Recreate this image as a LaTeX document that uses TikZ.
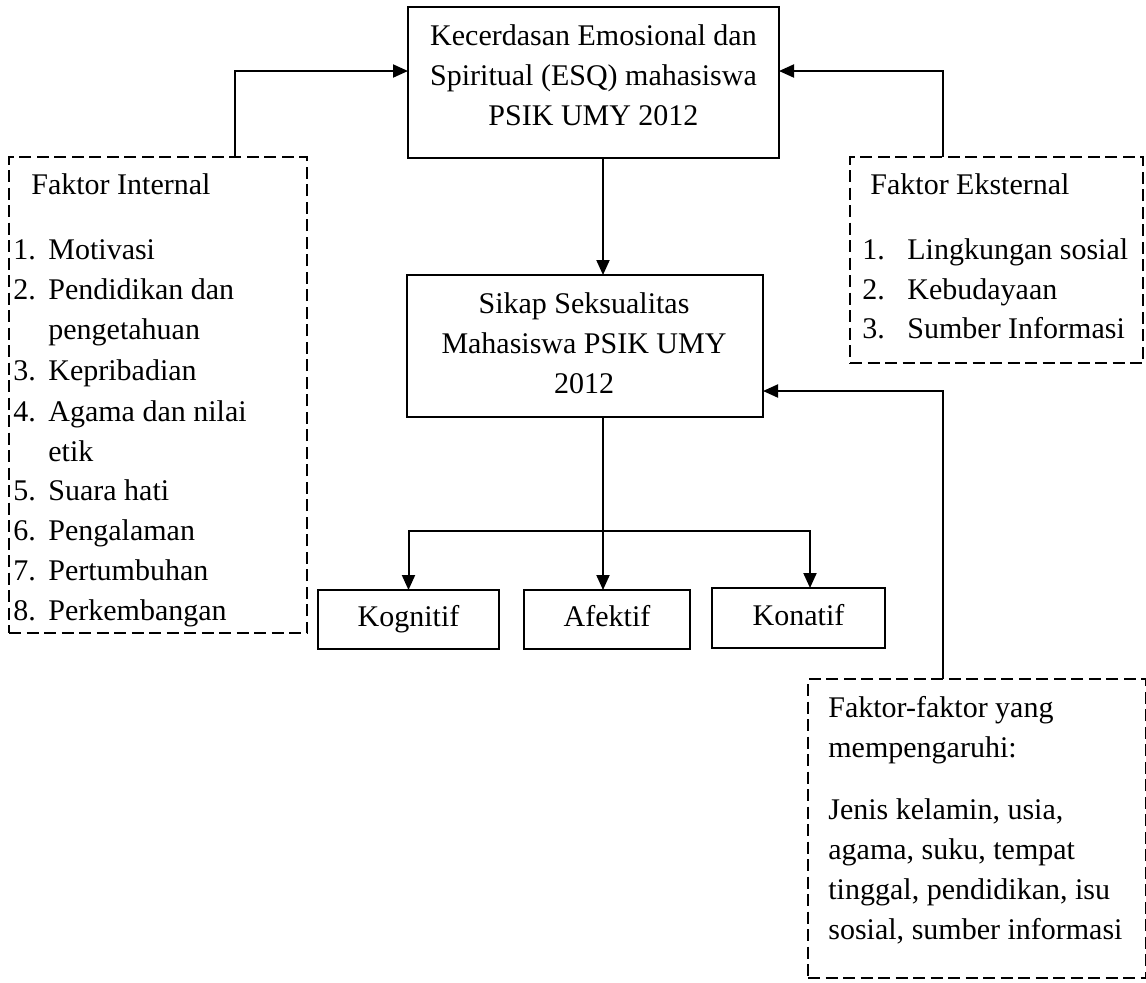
\documentclass[tikz,border=0pt]{standalone}
\usepackage{fontspec}
\setmainfont{Liberation Serif}
\usetikzlibrary{arrows.meta}
\begin{document}
\begin{tikzpicture}[x=0.5pt,y=-0.5pt,
  every node/.style={font=\fontsize{15pt}{20pt}\selectfont},
  solidbox/.style={draw, line width=1pt, rectangle, inner sep=0pt, outer sep=0pt, text height=10.5pt, text depth=3.5pt},
  dashbox/.style={draw, line width=1pt, rectangle, dash pattern=on 6pt off 2.75pt, inner sep=0pt, outer sep=0pt},
  lbl/.style={inner sep=0pt, anchor=west, text height=10.5pt, text depth=3.5pt},
  ctr/.style={inner sep=0pt, text height=10.5pt, text depth=3.5pt},
  arr/.style={line width=1pt, -{Triangle[length=7.5pt,width=6.5pt]}}]

\useasboundingbox (0,0) rectangle (1146,982);

% main boxes
\node[solidbox, minimum width=185.5pt, minimum height=75.5pt] (ESQ) at (593.5,82.5) {};
\node[ctr] (esq1) at (593.5,38) {Kecerdasan Emosional dan};
\node[ctr] (esq2) at (593.5,78) {Spiritual (ESQ) mahasiswa};
\node[ctr] (esq3) at (593.5,118) {PSIK UMY 2012};

\node[solidbox, minimum width=178pt, minimum height=71pt] (Sikap) at (585,346) {};
\node[ctr] (sik1) at (584,306) {Sikap Seksualitas};
\node[ctr] (sik2) at (584,346) {Mahasiswa PSIK UMY};
\node[ctr] (sik3) at (584,386) {2012};

\node[solidbox, minimum width=90.5pt, minimum height=29.5pt] (Kog) at (408.5,619.5) {Kognitif};
\node[solidbox, minimum width=83pt, minimum height=29.5pt] (Afe) at (607,619.5) {Afektif};
\node[solidbox, minimum width=86.5pt, minimum height=30pt] (Kon) at (798.5,618) {Konatif};

% dashed boxes
\node[dashbox, minimum width=149pt, minimum height=238pt] (FI) at (158,395) {};
\node[dashbox, minimum width=146.5pt, minimum height=103pt] (FE) at (996.5,260) {};
\node[dashbox, minimum width=169pt, minimum height=149.5pt] (FF) at (977,828.5) {};

% Faktor Internal text
\node[lbl] (fiT) at (31,187) {Faktor Internal};
\node[lbl] (fin1) at (13,252) {1.};
\node[lbl] (fil1) at (48,252) {Motivasi};
\node[lbl] (fin2) at (13,292) {2.};
\node[lbl] (fil2) at (48,292) {Pendidikan dan};
\node[lbl] (fil2b) at (48,332) {pengetahuan};
\node[lbl] (fin3) at (13,373) {3.};
\node[lbl] (fil3) at (48,373) {Kepribadian};
\node[lbl] (fin4) at (13,414) {4.};
\node[lbl] (fil4) at (48,414) {Agama dan nilai};
\node[lbl] (fil4b) at (48,454) {etik};
\node[lbl] (fin5) at (13,493) {5.};
\node[lbl] (fil5) at (48,493) {Suara hati};
\node[lbl] (fin6) at (13,533) {6.};
\node[lbl] (fil6) at (48,533) {Pengalaman};
\node[lbl] (fin7) at (13,573) {7.};
\node[lbl] (fil7) at (48,573) {Pertumbuhan};
\node[lbl] (fin8) at (13,613) {8.};
\node[lbl] (fil8) at (48,613) {Perkembangan};

% Faktor Eksternal text
\node[lbl] (feT) at (870,187) {Faktor Eksternal};
\node[lbl] (fen1) at (862,252) {1.};
\node[lbl] (fel1) at (907,252) {Lingkungan sosial};
\node[lbl] (fen2) at (862,292) {2.};
\node[lbl] (fel2) at (907,292) {Kebudayaan};
\node[lbl] (fen3) at (862,331) {3.};
\node[lbl] (fel3) at (907,331) {Sumber Informasi};

% Faktor-faktor text
\node[lbl] (ff1) at (828,710) {Faktor-faktor yang};
\node[lbl] (ff2) at (828,750) {mempengaruhi:};
\node[lbl] (ff3) at (828,812) {Jenis kelamin, usia,};
\node[lbl] (ff4) at (828,852) {agama, suku, tempat};
\node[lbl] (ff5) at (828,892) {tinggal, pendidikan, isu};
\node[lbl] (ff6) at (828,932) {sosial, sumber informasi};

% connector helper coordinates
\coordinate (c1) at (235,71);
\coordinate (c2) at (943,71);
\coordinate (c3) at (603,531);
\coordinate (c4) at (810,531);
\coordinate (c5) at (943,391);

\draw[arr] (FI.north -| c1) |- (ESQ.west |- c1);
\draw[arr] (FE.north -| c2) |- (ESQ.east |- c2);
\draw[arr] (ESQ.south -| c3) -- (Sikap.north -| c3);
\draw[arr] (Sikap.south -| c3) -- (Afe.north -| c3);
\draw[arr] (c3) -| (Kog.north);
\draw[arr] (c3) -| (Kon.north -| c4);
\draw[arr] (FF.north -| c5) |- (Sikap.east |- c5);
\end{tikzpicture}
\end{document}
